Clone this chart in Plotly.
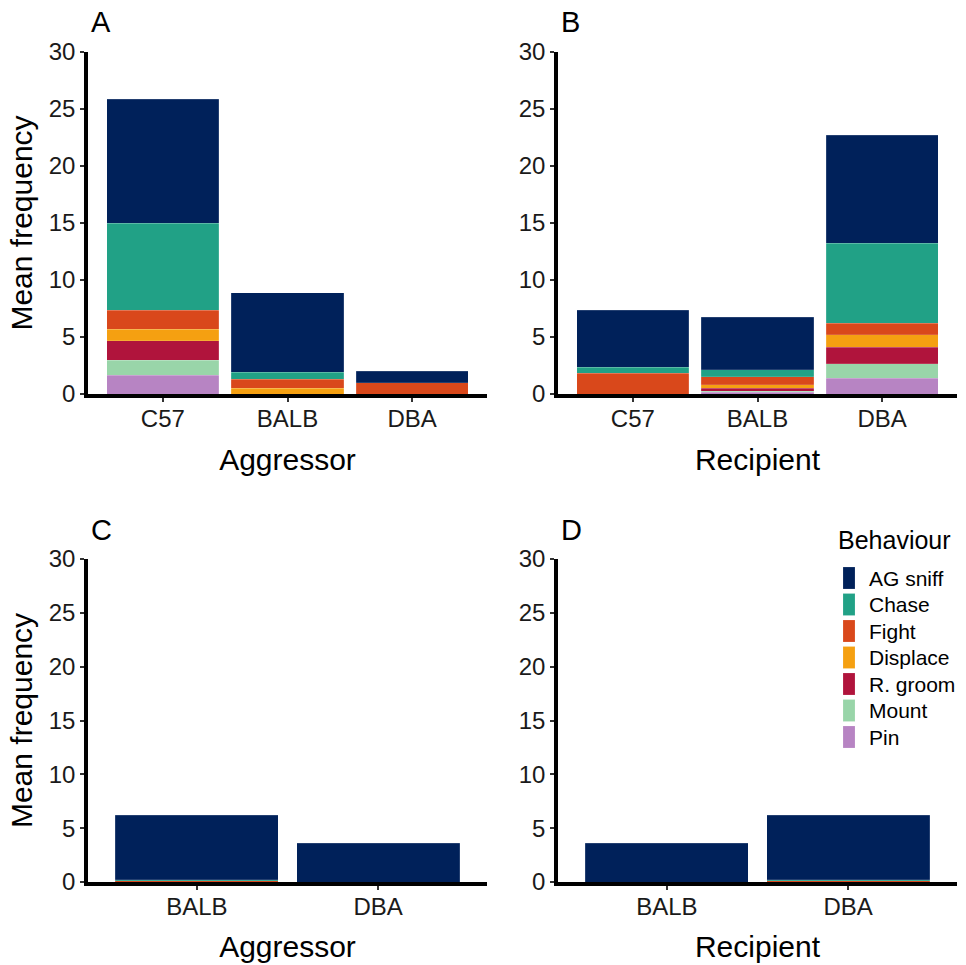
import plotly.graph_objects as go

behaviours = ["AG sniff", "Chase", "Fight", "Displace", "R. groom", "Mount", "Pin"]
colors = ["#00215A", "#21A186", "#D9481B", "#F5A011", "#B0143C", "#99D5A9", "#B784C3"]

cats_top = ["C57", "BALB", "DBA"]
cats_bottom = ["BALB", "DBA"]

# Panel A: Aggressor (C57, BALB, DBA)
agg_top = {
    "AG sniff": [10.9, 7.0, 1.0],
    "Chase": [7.6, 0.6, 0.0],
    "Fight": [1.7, 0.8, 1.0],
    "Displace": [1.0, 0.5, 0.0],
    "R. groom": [1.7, 0.0, 0.0],
    "Mount": [1.3, 0.0, 0.0],
    "Pin": [1.66, 0.0, 0.0],
}
# Panel B: Recipient (C57, BALB, DBA)
rec_top = {
    "AG sniff": [5.0, 4.6, 9.5],
    "Chase": [0.55, 0.6, 7.0],
    "Fight": [1.8, 0.7, 1.0],
    "Displace": [0.0, 0.3, 1.1],
    "R. groom": [0.0, 0.3, 1.46],
    "Mount": [0.0, 0.07, 1.28],
    "Pin": [0.0, 0.15, 1.37],
}
# Panel C: Aggressor (BALB, DBA)
agg_bottom = {
    "AG sniff": [6.0, 3.62],
    "Chase": [0.1, 0.0],
    "Fight": [0.1, 0.0],
    "Displace": [0.0, 0.0],
    "R. groom": [0.0, 0.0],
    "Mount": [0.0, 0.0],
    "Pin": [0.0, 0.0],
}
# Panel D: Recipient (BALB, DBA)
rec_bottom = {
    "AG sniff": [3.62, 6.0],
    "Chase": [0.0, 0.1],
    "Fight": [0.0, 0.1],
    "Displace": [0.0, 0.0],
    "R. groom": [0.0, 0.0],
    "Mount": [0.0, 0.0],
    "Pin": [0.0, 0.0],
}

panels = [
    ("x", "y", cats_top, agg_top),
    ("x2", "y2", cats_top, rec_top),
    ("x3", "y3", cats_bottom, agg_bottom),
    ("x4", "y4", cats_bottom, rec_bottom),
]

W, H = 966, 965
FONT = "Liberation Sans, Arial, sans-serif"

fig = go.Figure()
# stack from bottom (Pin) to top (AG sniff)
for b_idx in range(len(behaviours) - 1, -1, -1):
    b = behaviours[b_idx]
    for p_idx, (xa, ya, cats, data) in enumerate(panels):
        fig.add_trace(go.Bar(
            x=cats, y=data[b], name=b, legendgroup=b,
            showlegend=False,
            marker=dict(color=colors[b_idx], line=dict(width=0.4, color="rgba(255,255,255,0.35)")),
            xaxis=xa, yaxis=ya, hoverinfo="x+y+name",
        ))

def px_x(p):
    return p / W

def px_y(p):
    return 1 - p / H

xdom_left = [px_x(88), px_x(487)]
xdom_right = [px_x(558), px_x(957)]
ydom_top = [px_y(394), px_y(52)]
ydom_bot = [px_y(882), px_y(559)]

axis_common = dict(
    showline=True, linecolor="black", linewidth=3.5,
    ticks="outside", ticklen=4, tickwidth=2, tickcolor="#333333",
    showgrid=False, zeroline=False,
    tickfont=dict(family=FONT, size=24, color="#1a1a1a"),
    title_font=dict(family=FONT, size=30, color="black"),
)

layout = dict(
    width=W, height=H,
    margin=dict(l=0, r=0, t=0, b=0),
    plot_bgcolor="white", paper_bgcolor="white",
    barmode="stack", bargap=0.1,
    font=dict(family=FONT, color="black"),
    showlegend=False,
)

specs = [
    ("xaxis", "yaxis", xdom_left, ydom_top, "y", "x", "Aggressor", True, [-0.6, 2.6], 19),
    ("xaxis2", "yaxis2", xdom_right, ydom_top, "y2", "x2", "Recipient", False, [-0.6, 2.6], 19),
    ("xaxis3", "yaxis3", xdom_left, ydom_bot, "y3", "x3", "Aggressor", True, [-0.6, 1.6], 18),
    ("xaxis4", "yaxis4", xdom_right, ydom_bot, "y4", "x4", "Recipient", False, [-0.6, 1.6], 18),
]
for xk, yk, xd, yd, anchor_y, anchor_x, xtitle, ylab, xr, so in specs:
    layout[xk] = dict(axis_common, domain=xd, anchor=anchor_y, range=xr,
                      ticklabelstandoff=-4,
                      title=dict(text=xtitle, standoff=so), automargin=False)
    layout[yk] = dict(axis_common, domain=yd, anchor=anchor_x, range=[0, 30], dtick=5,
                      title=dict(text="Mean frequency" if ylab else "", standoff=8),
                      automargin=False)

fig.update_layout(**layout)

for letter, x, y in [("A", 89, 22), ("B", 559, 22), ("C", 89, 530), ("D", 559, 530)]:
    fig.add_annotation(text=letter, x=px_x(x), y=px_y(y), xref="paper", yref="paper",
                       xanchor="left", yanchor="middle", showarrow=False,
                       font=dict(family=FONT, size=29, color="black"))

# Legend (drawn manually to match key size and spacing)
fig.add_annotation(text="Behaviour", x=px_x(836), y=px_y(540), xref="paper", yref="paper",
                   xanchor="left", yanchor="middle", showarrow=False,
                   font=dict(family=FONT, size=25, color="black"))
for i, (b, c) in enumerate(zip(behaviours, colors)):
    cy = 578 + 26.5 * i
    fig.add_shape(type="rect", xref="paper", yref="paper",
                  x0=px_x(843), x1=px_x(855), y0=px_y(cy - 11), y1=px_y(cy + 11),
                  fillcolor=c, line=dict(width=0.4, color="rgba(255,255,255,0.4)"))
    fig.add_annotation(text=b, x=px_x(867), y=px_y(cy), xref="paper", yref="paper",
                       xanchor="left", yanchor="middle", showarrow=False,
                       font=dict(family=FONT, size=21, color="black"))

fig.write_html("out.html", config={"displayModeBar": False},
               post_script="document.body.style.margin='0';document.body.style.padding='0';")
